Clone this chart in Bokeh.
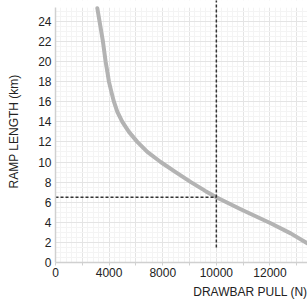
from bokeh.plotting import figure
from bokeh.models import Range1d, FixedTicker, Title, BoxAnnotation
from bokeh.embed import file_html
from bokeh.resources import INLINE

# Curve data: drawbar pull (N) vs ramp length (km)
pull_n = [5560, 5769, 5869, 5933, 5993, 6082, 6179, 6306, 6493, 6739,
          7052, 7425, 7922, 8481, 9050, 9601, 10000, 10907, 12026, 12772, 13406]
ramp_km = [25.3, 22.0, 20.0, 19.0, 18.0, 17.0, 16.0, 15.0, 14.0, 13.0,
           12.0, 11.0, 10.0, 9.0, 8.0, 7.1, 6.5, 5.3, 3.9, 2.9, 1.9]

# Operating point marker
op_pull = 10000
op_ramp = 6.5
op_vline_bottom = 1.5

# Axis ticks and labels (as printed on the reference)
x_tick_values = [4000, 6000, 8000, 10000, 12000]
x_tick_labels = ["0", "4000", "8000", "10000", "12000"]
x_minor_ticks = [5000, 7000, 9000, 11000, 13000]
x_grid_major = [4000, 5000, 6000, 7000, 8000, 9000, 10000, 11000, 12000, 13000]
x_grid_minor = list(range(4000, 13600, 200))
y_tick_values = [0, 2, 4, 6, 8, 10, 12, 14, 16, 18, 20, 22, 24]
y_grid_minor = [v * 0.5 for v in range(0, 51)]
grid_top = 25.35

FONT = "Liberation Sans"
TXT = "#222222"

p = figure(width=307, height=303, output_backend="svg", toolbar_location=None,
           x_range=Range1d(4000, 13400), y_range=Range1d(0, 26.07),
           min_border_left=55, min_border_right=0, min_border_top=0,
           min_border_bottom=41)
p.outline_line_color = None
p.background_fill_color = "white"
p.border_fill_color = "white"

# grids
p.xgrid.ticker = FixedTicker(ticks=x_grid_major, minor_ticks=x_grid_minor)
p.ygrid.ticker = FixedTicker(ticks=y_tick_values, minor_ticks=y_grid_minor)
for g in (p.xgrid, p.ygrid):
    g.grid_line_color = "#e4e4e4"
    g.grid_line_width = 1
    g.minor_grid_line_color = "#f4f4f4"
    g.minor_grid_line_width = 1

# white band above the grid area (reference grid stops below the top edge)
p.add_layout(BoxAnnotation(bottom=grid_top, fill_color="white", fill_alpha=1.0,
                           line_color=None, level="underlay"))

# x axis
xa = p.xaxis[0]
xa.ticker = FixedTicker(ticks=x_tick_values, minor_ticks=x_minor_ticks)
xa.major_label_overrides = {v: l for v, l in zip(x_tick_values, x_tick_labels)}
xa.axis_line_color = "#d0d0d0"
xa.axis_line_width = 1.5
xa.major_tick_line_color = "#d0d0d0"
xa.minor_tick_line_color = "#d0d0d0"
xa.major_tick_out = 3
xa.major_tick_in = 0
xa.minor_tick_out = 3
xa.minor_tick_in = 0
xa.major_label_standoff = 2
xa.major_label_text_font = FONT
xa.major_label_text_font_size = "12px"
xa.major_label_text_color = TXT

# y axis
ya = p.yaxis[0]
ya.ticker = FixedTicker(ticks=y_tick_values)
ya.bounds = (0, grid_top)
ya.axis_line_color = "#d0d0d0"
ya.axis_line_width = 1.5
ya.major_tick_out = 0
ya.major_tick_in = 0
ya.minor_tick_out = 0
ya.minor_tick_in = 0
ya.major_label_standoff = 4
ya.major_label_text_font = FONT
ya.major_label_text_font_size = "12px"
ya.major_label_text_color = TXT
ya.axis_label = "RAMP LENGTH (km)"
ya.axis_label_text_font = FONT
ya.axis_label_text_font_size = "12px"
ya.axis_label_text_font_style = "normal"
ya.axis_label_text_color = TXT
ya.axis_label_standoff = 14

p.add_layout(Title(text="DRAWBAR PULL (N)", align="right", text_font=FONT,
                   text_font_size="12px", text_font_style="normal",
                   text_color=TXT, standoff=6), "below")

# curve
p.line(pull_n, ramp_km, line_color="#b3b3b3", line_width=4, line_cap="round",
       line_join="round")

# dashed guide lines
p.line([x_tick_values[0], op_pull], [op_ramp, op_ramp], line_color="#333333",
       line_width=1.5, line_dash="3 2")
p.line([op_pull, op_pull], [op_vline_bottom, 27], line_color="#333333",
       line_width=1.5, line_dash="3 2")

open("out.html", "w").write(file_html(p, INLINE))
